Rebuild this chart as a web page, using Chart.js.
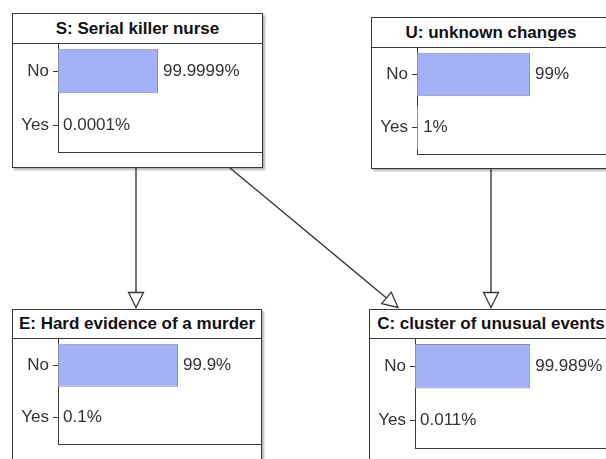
<!DOCTYPE html>
<html><head><meta charset="utf-8">
<script src="https://cdn.jsdelivr.net/npm/chart.js@4.4.1/dist/chart.umd.min.js"></script>
<style>
html,body{margin:0;padding:0;width:606px;height:459px;overflow:hidden;background:#fff;font-family:"Liberation Sans",Arial,sans-serif}
.node{position:absolute;box-sizing:border-box;border:1px solid #383838;background:#fff;box-shadow:2px 2px 2px rgba(0,0,0,0.3)}
.title{box-sizing:border-box;border-bottom:1px solid #383838;font-weight:bold;font-size:17px;color:#111;text-align:center;white-space:nowrap;overflow:visible}
canvas{display:block}
#arrows{position:absolute;left:0;top:0}
</style></head><body>
<svg id="arrows" width="606" height="459" xmlns="http://www.w3.org/2000/svg"></svg>
<script>
// ---- data ----
const states = ["No", "Yes"];
const titleS = "S: Serial killer nurse";
const titleU = "U: unknown changes";
const titleE = "E: Hard evidence of a murder";
const titleC = "C: cluster of unusual events";
const valuesS = [99.9999, 0.0001];
const valuesU = [99, 1];
const valuesE = [99.9, 0.1];
const valuesC = [99.989, 0.011];
const axisMaxS = 204;
const axisMaxU = 169;
const axisMaxE = 169;
const axisMaxC = 171;

// ---- layout (positions/sizes only) ----
const nodes = [
  {title: titleS, values: valuesS, max: axisMaxS, left: 12,  top: 13,  width: 251, height: 155, titleH: 30, plotH: 108},
  {title: titleU, values: valuesU, max: axisMaxU, left: 371, top: 17,  width: 240, height: 152, titleH: 30, plotH: 106},
  {title: titleE, values: valuesE, max: axisMaxE, left: 12,  top: 309, width: 250, height: 170, titleH: 29, plotH: 105},
  {title: titleC, values: valuesC, max: axisMaxC, left: 369, top: 309, width: 244, height: 170, titleH: 29, plotH: 109}
];

const FONT = '"Liberation Sans", Arial, sans-serif';
const valueLabels = {
  id: 'valueLabels',
  afterDatasetsDraw(chart) {
    const ctx = chart.ctx;
    const meta = chart.getDatasetMeta(0);
    const data = chart.data.datasets[0].data;
    ctx.save();
    ctx.font = '17px ' + FONT;
    ctx.fillStyle = '#333';
    ctx.textBaseline = 'middle';
    ctx.textAlign = 'left';
    meta.data.forEach((el, i) => {
      ctx.fillText(String(data[i]) + '%', el.x + 5, el.y);
    });
    ctx.restore();
  }
};
const plotFrame = {
  id: 'plotFrame',
  afterDraw(chart) {
    const a = chart.chartArea, ctx = chart.ctx;
    ctx.save();
    ctx.strokeStyle = '#383838';
    ctx.lineWidth = 1;
    ctx.beginPath();
    ctx.moveTo(a.left, Math.round(a.bottom) + 0.5);
    ctx.lineTo(chart.width, Math.round(a.bottom) + 0.5);
    ctx.stroke();
    ctx.restore();
  }
};

nodes.forEach(n => {
  const div = document.createElement('div');
  div.className = 'node';
  Object.assign(div.style, {left: n.left + 'px', top: n.top + 'px', width: n.width + 'px', height: n.height + 'px'});
  const t = document.createElement('div');
  t.className = 'title';
  t.style.height = n.titleH + 'px';
  t.style.lineHeight = (n.titleH - 1) + 'px';
  t.textContent = n.title;
  div.appendChild(t);
  const cv = document.createElement('canvas');
  cv.width = n.width - 2;
  cv.height = n.plotH + 1;
  cv.style.width = cv.width + 'px';
  cv.style.height = cv.height + 'px';
  div.appendChild(cv);
  document.body.appendChild(div);

  new Chart(cv, {
    type: 'bar',
    data: {
      labels: states,
      datasets: [{
        data: n.values,
        backgroundColor: '#a4b1f8',
        borderColor: '#8a8fa6',
        borderWidth: 1,
        borderSkipped: false,
        barPercentage: 0.82,
        categoryPercentage: 1
      }]
    },
    options: {
      indexAxis: 'y',
      responsive: false,
      animation: false,
      events: [],
      layout: {padding: {top: 0, right: 0, bottom: 1, left: 0}},
      plugins: {legend: {display: false}, tooltip: {enabled: false}},
      scales: {
        x: {display: false, min: 0, max: n.max},
        y: {
          afterFit(s) { s.width = 45; s.paddingTop = 0; s.paddingBottom = 0; },
          grid: {drawOnChartArea: false, drawTicks: true, tickLength: 5, offset: false, color: '#383838'},
          border: {display: true, color: '#383838'},
          ticks: {color: '#333', padding: 4, font: {family: FONT, size: 17}}
        }
      }
    },
    plugins: [valueLabels, plotFrame]
  });
});

// ---- arrows ----
const svg = document.getElementById('arrows');
const NS = 'http://www.w3.org/2000/svg';
function arrow(x1, y1, x2, y2) {
  const dx = x2 - x1, dy = y2 - y1, L = Math.hypot(dx, dy);
  const ux = dx / L, uy = dy / L, h = 15, w = 7.5;
  const bx = x2 - ux * h, by = y2 - uy * h;
  const line = document.createElementNS(NS, 'line');
  line.setAttribute('x1', x1); line.setAttribute('y1', y1);
  line.setAttribute('x2', bx); line.setAttribute('y2', by);
  line.setAttribute('stroke', '#383838'); line.setAttribute('stroke-width', '1.4');
  svg.appendChild(line);
  const p = document.createElementNS(NS, 'polygon');
  p.setAttribute('points', `${bx - uy * w},${by + ux * w} ${bx + uy * w},${by - ux * w} ${x2},${y2}`);
  p.setAttribute('fill', '#fff'); p.setAttribute('stroke', '#383838'); p.setAttribute('stroke-width', '1.3');
  svg.appendChild(p);
}
arrow(136, 168, 136, 307.5);
arrow(230, 168, 398, 307.5);
arrow(491, 169, 491, 307.5);
</script>
</body></html>
